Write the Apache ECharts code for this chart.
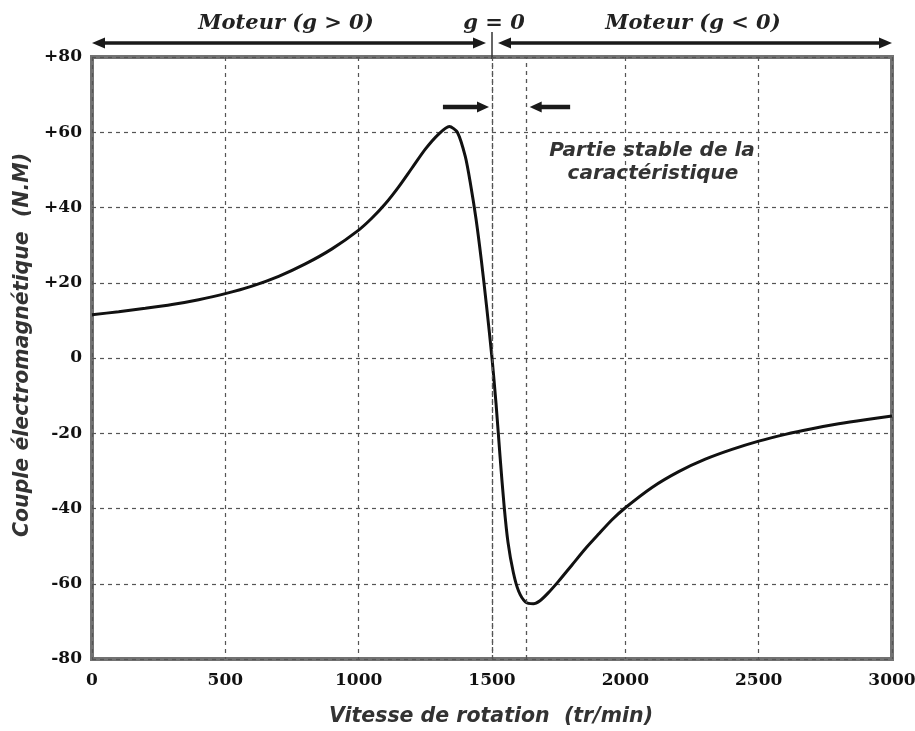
<!DOCTYPE html>
<html>
<head>
<meta charset="utf-8">
<script src="https://cdn.jsdelivr.net/npm/echarts@6/dist/echarts.min.js"></script>
<style>
html,body{margin:0;padding:0;background:#fff;}
#main{width:915px;height:731px;}
</style>
</head>
<body>
<div id="main"></div>
<script>
// ---- data ----
var speeds = [0, 100, 200, 300, 400, 500, 600, 700, 800, 900, 1000, 1050, 1100, 1150, 1200, 1250, 1300, 1340, 1370, 1400, 1420, 1440, 1460, 1480, 1500, 1515, 1530, 1545, 1560, 1580, 1600, 1625, 1655, 1680, 1710, 1750, 1800, 1850, 1900, 1950, 2000, 2100, 2200, 2300, 2400, 2500, 2600, 2700, 2800, 2900, 3000];
var torque = [11.5, 12.3, 13.2, 14.2, 15.5, 17.1, 19.1, 21.7, 25.0, 29.0, 34.0, 37.2, 41.0, 45.5, 50.5, 55.5, 59.5, 61.5, 60.0, 53.5, 46.0, 37.0, 26.0, 13.5, 0.0, -12.0, -26.0, -39.0, -49.0, -57.0, -62.0, -64.8, -65.3, -64.5, -62.5, -59.3, -55.0, -50.7, -46.8, -43.0, -39.8, -34.4, -30.2, -26.9, -24.3, -22.1, -20.3, -18.8, -17.5, -16.4, -15.4];
var xTicks = [0, 500, 1000, 1500, 2000, 2500, 3000];
var yTicks = [-80, -60, -40, -20, 0, 20, 40, 60, 80];
var syncSpeed = 1500;      // g = 0
var minTorqueSpeed = 1630; // vertical reference at the torque minimum
var labelLeft = 'Moteur (g > 0)';
var labelMid = 'g = 0';
var labelRight = 'Moteur (g < 0)';
var noteLine1 = 'Partie stable de la';
var noteLine2 = 'caractéristique';
var xName = 'Vitesse de rotation  (tr/min)';
var yName = 'Couple électromagnétique  (N.M)';

var curve = speeds.map(function (s, i) { return [s, torque[i]]; });

var chart = echarts.init(document.getElementById('main'), null, {renderer: 'canvas'});
var gridColor = '#555';
var tickFont = {fontFamily: 'DejaVu Serif', fontWeight: 'bold', fontSize: 17, color: '#111'};

chart.setOption({
  animation: false,
  backgroundColor: '#fff',
  grid: {left: 92, right: 23, top: 57, bottom: 72, outerBoundsMode: 'none', containLabel: false, show: true, borderColor: '#737373', borderWidth: 4, backgroundColor: 'transparent'},
  xAxis: {
    type: 'value', min: xTicks[0], max: xTicks[xTicks.length - 1], interval: 500,
    axisLine: {show: false}, axisTick: {show: false},
    axisLabel: Object.assign({margin: 13, formatter: function (v) { return String(v); }}, tickFont),
    splitLine: {show: true, lineStyle: {color: gridColor, width: 1.2, type: [4, 4]}}
  },
  yAxis: {
    type: 'value', min: yTicks[0], max: yTicks[yTicks.length - 1], interval: 20,
    axisLine: {show: false}, axisTick: {show: false},
    axisLabel: Object.assign({margin: 10, formatter: function (v) { return v > 0 ? '+' + v : String(v); }}, tickFont),
    splitLine: {show: true, lineStyle: {color: gridColor, width: 1.2, type: [4, 4]}}
  },
  series: [{
    type: 'line', data: curve, smooth: 0.25, showSymbol: false, clip: true,
    lineStyle: {color: '#111', width: 3},
    markLine: {
      silent: true, symbol: 'none', label: {show: false},
      lineStyle: {color: gridColor, width: 1.3, type: [4, 4]},
      data: [{xAxis: syncSpeed}, {xAxis: minTorqueSpeed}]
    }
  }]
});

function px(x, y) { return chart.convertToPixel({gridIndex: 0}, [x, y]); }
var g = [];
var arrowColor = '#1a1a1a';
function arrow(x1, y, x2, w, head, headW) {
  var dir = x2 > x1 ? 1 : -1;
  g.push({type: 'line', shape: {x1: x1, y1: y, x2: x2 - dir * head * 0.8, y2: y}, style: {stroke: arrowColor, lineWidth: w}});
  g.push({type: 'polygon', shape: {points: [[x2, y], [x2 - dir * head, y - headW / 2], [x2 - dir * head, y + headW / 2]]}, style: {fill: arrowColor}});
}
var left0 = px(xTicks[0], 0)[0];
var right0 = px(xTicks[xTicks.length - 1], 0)[0];
var xs = px(syncSpeed, 0)[0];
var topY = px(0, 80)[1];
var yTopArrow = 43;
arrow((left0 + xs) / 2, yTopArrow, left0, 3.5, 13, 11);
arrow((left0 + xs) / 2, yTopArrow, xs - 6, 3.5, 13, 11);
arrow((xs + right0) / 2, yTopArrow, xs + 6, 3.5, 13, 11);
arrow((xs + right0) / 2, yTopArrow, right0, 3.5, 13, 11);
g.push({type: 'line', shape: {x1: xs, y1: 32, x2: xs, y2: topY + 2}, style: {stroke: '#333', lineWidth: 1.5}});
var yInner = 107;
arrow(px(1316, 0)[0], yInner, xs - 3, 4.5, 12, 11);
arrow(px(1793, 0)[0], yInner, px(minTorqueSpeed, 0)[0] + 3, 4.5, 12, 11);

var serifTitle = {fontFamily: 'DejaVu Serif', fontWeight: 'bold', fontStyle: 'italic', fontSize: 21, fill: '#222', textAlign: 'center', textVerticalAlign: 'middle'};
g.push({type: 'text', x: 286, y: 24, style: Object.assign({text: labelLeft}, serifTitle)});
g.push({type: 'text', x: 494, y: 24, style: Object.assign({text: labelMid}, serifTitle)});
g.push({type: 'text', x: 693, y: 24, style: Object.assign({text: labelRight}, serifTitle)});

var noteStyle = {fontFamily: 'DejaVu Sans', fontWeight: 'bold', fontStyle: 'italic', fontSize: 20, fill: '#333', textAlign: 'center', textVerticalAlign: 'middle'};
g.push({type: 'text', x: 652, y: 151, style: Object.assign({text: noteLine1}, noteStyle)});
g.push({type: 'text', x: 653, y: 174, style: Object.assign({text: noteLine2}, noteStyle)});

var axisNameStyle = {fontFamily: 'DejaVu Sans', fontWeight: 'bold', fontStyle: 'italic', fontSize: 20.5, fill: '#333', textAlign: 'center', textVerticalAlign: 'middle'};
g.push({type: 'text', x: 491, y: 717, style: Object.assign({text: xName}, axisNameStyle)});
g.push({type: 'text', x: 23, y: 345, rotation: Math.PI / 2, style: Object.assign({text: yName, fontSize: 21}, axisNameStyle)});

chart.setOption({graphic: g});
</script>
</body>
</html>
